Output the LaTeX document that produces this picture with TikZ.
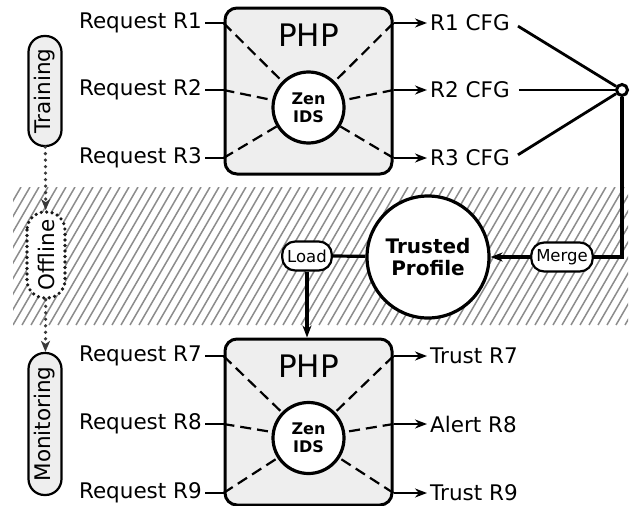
\documentclass[tikz,border=0pt]{standalone}
\usepackage{fontspec}
\setmainfont{DejaVu Sans}
\usetikzlibrary{arrows.meta,calc,positioning}
\tikzset{
	every node/.style={
		font=\fontsize{21.5}{25}\selectfont
	},
	phpbox/.style={
		shape=rectangle,
		draw,
		line width=3pt,
		rounded corners=12pt,
		fill=gray!13,
		minimum width=167pt,
		minimum height=166pt
	},
	zen/.style={
		shape=circle,
		draw,
		fill=white,
		line width=3.2pt,
		minimum size=71pt,
		inner sep=0pt,
		align=center,
		font=\fontsize{16}{18}\selectfont\bfseries
	},
	reqlabel/.style={anchor=east, inner sep=3pt},
	outlabel/.style={anchor=west, inner sep=3pt},
	phase/.style={
		shape=rectangle,
		draw,
		line width=2.2pt,
		rounded corners=16pt,
		fill=gray!13,
		rotate=90,
		minimum height=33pt,
		inner sep=2pt
	},
	tag/.style={
		shape=rectangle,
		draw,
		fill=white,
		line width=2.2pt,
		rounded corners=13pt,
		minimum height=29pt,
		inner xsep=5pt,
		font=\fontsize{16.5}{19}\selectfont
	},
	reqline/.style={line width=2.4pt},
	dashline/.style={line width=2.2pt, dash pattern=on 11pt off 6pt},
	outarrow/.style={line width=2.4pt, -{Stealth[length=12pt,width=9pt]}},
	thickline/.style={line width=3.2pt},
	dotflow/.style={draw=gray!45!black, line width=3.6pt, line cap=round, dash pattern=on 0pt off 6.5pt,
		-{Stealth[length=11pt,width=9pt,inset=3pt,line cap=butt]}}
}

\begin{document}
\begin{tikzpicture}[x=1pt,y=-1pt]
	\useasboundingbox (0,0) rectangle (640,506);

	% offline band
	\begin{scope}
		\clip (13,187) rectangle (628,325);
		\foreach \i in {-12,...,70}
		\draw[black!45, line width=1.5pt] (13+\i*9,325) -- ++(80,-138);
	\end{scope}

	% training
	\node[phpbox] (php1) at (308.5,91) {};
	\node (phptext1) at (308.5,35) {\fontsize{31}{36}\selectfont PHP};
	\foreach \n/\y in {1/23,2/90,3/158} {
		\node[reqlabel] (req\n) at (205,\y) {Request R\n};
		\coordinate (in\n) at (php1.west |- req\n.east);
		\coordinate (out\n) at (php1.east |- req\n.east);
		\node[outlabel] (cfg\n) at (427,\y) {R\n\ CFG};
	}
	\node[zen] (zen1) at (308.5,107.5) {Zen\\IDS};
	\foreach \n in {1,2,3} {
		\draw[reqline] (req\n.east) -- (in\n);
		\draw[dashline] (in\n) -- (zen1);
		\draw[dashline] (out\n) -- (zen1);
		\draw[outarrow] (out\n) -- (cfg\n.west);
	}

	% merging
	\node[circle, draw, fill=white, line width=3pt, minimum size=11pt, inner sep=0pt] (join) at (622,90) {};
	\foreach \n in {1,2,3}
	\draw[line width=2.8pt, shorten <=6pt] (cfg\n.east) -- (join);
	\node[tag] (merge) at (562,257) {Merge};
	\node[circle, draw, fill=white, line width=3.2pt, minimum size=122pt, inner sep=0pt, align=center,
		font=\fontsize{20}{22}\selectfont\bfseries] (trust) at (428,257) {Trusted\\Profile};
	\node[tag] (load) at (307,256) {Load};
	\draw[thickline] (join) |- (merge.east);
	\draw[thickline, -{Stealth[length=12pt,width=9pt]}] (merge.west) -- (trust);
	\draw[thickline] (load.east) -- (trust);

	% monitoring
	\node[phpbox] (php2) at (308.5,422) {};
	\node (phptext2) at (308.5,366) {\fontsize{31}{36}\selectfont PHP};
	\foreach \n/\y/\res in {7/356/Trust,8/424/Alert,9/493/Trust} {
		\node[reqlabel] (req\n) at (205,\y) {Request R\n};
		\coordinate (in\n) at (php2.west |- req\n.east);
		\coordinate (out\n) at (php2.east |- req\n.east);
		\node[outlabel] (res\n) at (427,\y) {\res\ R\n};
	}
	\node[zen] (zen2) at (308.5,438) {Zen\\IDS};
	\foreach \n in {7,8,9} {
		\draw[reqline] (req\n.east) -- (in\n);
		\draw[dashline] (in\n) -- (zen2);
		\draw[dashline] (out\n) -- (zen2);
		\draw[outarrow] (out\n) -- (res\n.west);
	}
	\draw[thickline, -{Stealth[length=12pt,width=9pt]}] (load.south) -- (load.south |- php2.north);

	% phases
	\node[phase, minimum width=110pt] (training) at (45,91) {Training};
	\node[phase, minimum width=86pt, minimum height=38pt, fill=white, draw=gray!20!black,
		line width=3.6pt, line cap=round, dash pattern=on 0pt off 5.5pt, rounded corners=18pt] (offline) at (46,255) {Offline};
	\node[phase, minimum width=142pt] (monitoring) at (45,424) {Monitoring};
	\draw[dotflow] (training) -- (offline);
	\draw[dotflow] (offline) -- (monitoring);
\end{tikzpicture}
\end{document}
